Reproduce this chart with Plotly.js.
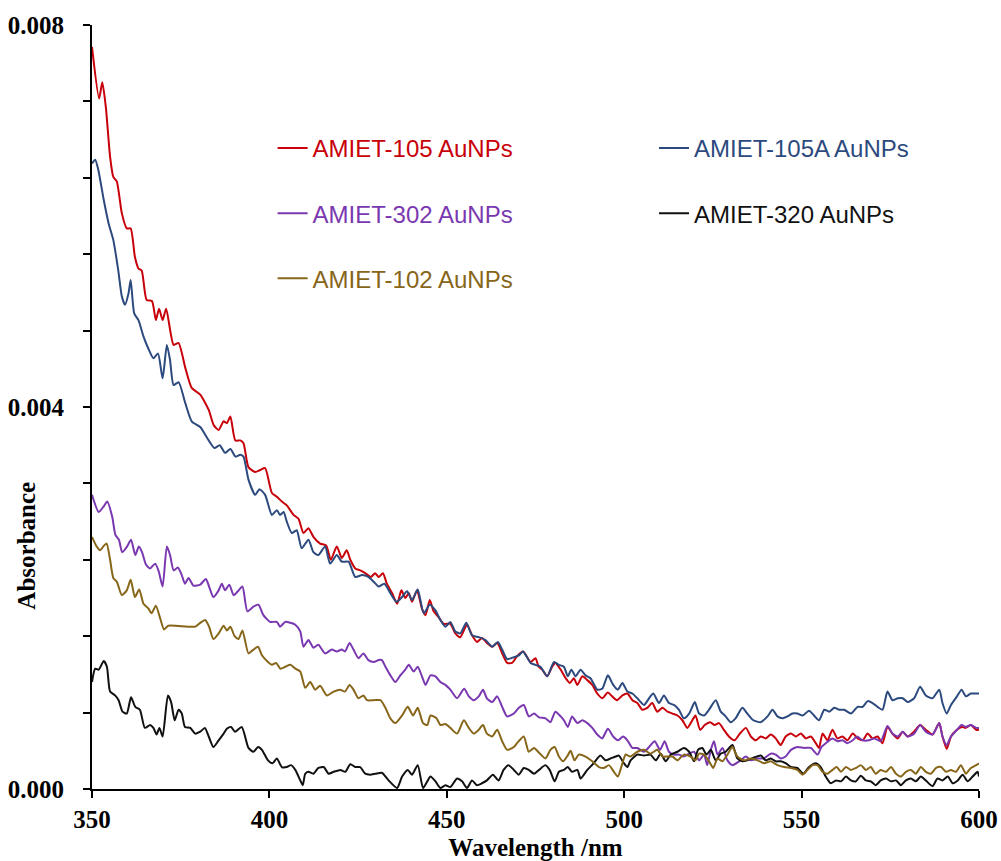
<!DOCTYPE html>
<html>
<head>
<meta charset="utf-8">
<script src="https://cdn.plot.ly/plotly-3.0.1.min.js"></script>
<style>
  html, body { margin: 0; padding: 0; background: #ffffff; }
  #chart { width: 1001px; height: 861px; }
</style>
</head>
<body>
<div id="chart"></div>
<script>
// ---------------- DATA ----------------
const seriesNames = ["AMIET-105 AuNPs", "AMIET-105A AuNPs", "AMIET-302 AuNPs", "AMIET-320 AuNPs", "AMIET-102 AuNPs"];
const xTickVals = [350, 400, 450, 500, 550, 600];
const yTickVals = [0, 0.004, 0.008];
const yTickText = ["0.000", "0.004", "0.008"];

const wl105 = [350.0,352.0,352.9,353.9,355.1,356.0,357.0,358.4,359.8,360.9,362.1,363.1,364.0,365.4,366.9,368.0,368.9,369.9,370.9,373.0,374.4,376.3,378.1,380.5,382.9,384.3,385.7,387.1,388.0,389.0,390.4,391.8,392.7,394.1,396.0,397.4,398.8,400.7,402.1,403.5,404.9,406.8,408.2,409.6,411.0,412.4,414.3,416.0,417.3,419.0,420.4,421.8,422.8,424.2,425.6,427.0,428.6,429.8,430.8,432.0,433.1,434.6,436.0,437.2,438.3,439.3,440.2,441.6,443.0,444.0,445.2,446.3,447.7,449.1,451.0,452.4,453.8,455.7,457.1,458.5,459.9,461.3,462.8,464.2,465.6,467.0,468.4,469.8,471.5,473.6,475.0,475.9,476.9,478.3,479.7,480.6,482.1,483.5,484.7,485.8,486.8,488.2,489.6,491.0,492.4,493.8,495.4,496.6,498.0,499.5,500.9,502.3,503.7,505.1,506.5,507.9,509.3,510.8,512.2,513.6,515.0,516.4,517.8,519.2,520.1,521.4,522.7,524.2,525.5,526.7,528.1,529.5,531.1,532.6,534.3,535.7,537.1,538.5,539.9,541.3,542.7,544.1,545.5,547.0,548.4,549.8,551.2,552.6,554.0,554.9,555.9,557.3,558.7,560.1,561.5,562.9,564.4,565.8,567.2,568.6,570.0,571.4,572.8,574.2,575.6,577.1,578.5,579.9,581.7,583.4,585.0,586.9,588.8,589.7,590.9,592.1,593.8,595.1,596.3,597.7,599.2,600.0];
const abs105 = [0.00777,0.00723,0.00740,0.00714,0.00662,0.00641,0.00636,0.00603,0.00587,0.00587,0.00557,0.00545,0.00543,0.00512,0.00511,0.00491,0.00503,0.00491,0.00503,0.00465,0.00467,0.00441,0.00420,0.00413,0.00397,0.00381,0.00376,0.00385,0.00383,0.00390,0.00365,0.00365,0.00362,0.00337,0.00332,0.00334,0.00336,0.00310,0.00306,0.00301,0.00297,0.00287,0.00283,0.00268,0.00273,0.00264,0.00257,0.00255,0.00240,0.00254,0.00242,0.00250,0.00240,0.00231,0.00229,0.00226,0.00222,0.00226,0.00222,0.00226,0.00215,0.00205,0.00194,0.00208,0.00200,0.00205,0.00196,0.00208,0.00189,0.00182,0.00198,0.00186,0.00180,0.00173,0.00173,0.00163,0.00159,0.00172,0.00161,0.00154,0.00158,0.00153,0.00149,0.00153,0.00142,0.00132,0.00132,0.00139,0.00144,0.00133,0.00137,0.00128,0.00125,0.00118,0.00128,0.00132,0.00125,0.00116,0.00111,0.00116,0.00109,0.00118,0.00114,0.00109,0.00100,0.00095,0.00101,0.00097,0.00093,0.00098,0.00100,0.00093,0.00090,0.00083,0.00085,0.00090,0.00081,0.00085,0.00081,0.00079,0.00077,0.00072,0.00064,0.00072,0.00077,0.00062,0.00067,0.00070,0.00067,0.00069,0.00062,0.00055,0.00051,0.00058,0.00064,0.00055,0.00051,0.00055,0.00053,0.00057,0.00053,0.00046,0.00055,0.00058,0.00055,0.00058,0.00053,0.00055,0.00048,0.00043,0.00058,0.00051,0.00062,0.00053,0.00055,0.00051,0.00058,0.00053,0.00051,0.00058,0.00053,0.00055,0.00048,0.00065,0.00058,0.00053,0.00060,0.00055,0.00060,0.00067,0.00062,0.00057,0.00069,0.00055,0.00042,0.00055,0.00062,0.00065,0.00064,0.00067,0.00062,0.00062];

const wl105A = [350.0,350.9,351.8,353.3,354.7,356.0,357.4,358.4,359.3,360.3,360.9,361.9,363.1,364.5,365.9,367.3,368.6,369.9,371.1,372.0,373.0,374.4,376.3,378.1,380.5,382.9,384.5,386.0,387.5,389.0,390.5,391.8,392.7,394.1,396.0,397.2,398.8,400.7,402.1,403.0,404.0,404.9,406.3,407.7,409.1,411.0,412.4,413.8,415.7,417.1,419.0,420.4,422.3,424.2,426.1,427.9,429.4,430.8,432.4,434.1,435.8,437.4,438.8,440.2,441.8,443.5,445.2,446.8,448.2,449.6,451.0,452.4,453.8,455.5,457.1,459.0,460.9,462.8,464.4,465.6,467.0,468.9,470.3,471.5,473.6,475.0,476.4,478.3,480.2,481.6,483.0,484.1,485.1,486.3,487.7,489.1,490.5,492.4,493.8,495.4,496.9,498.2,499.5,500.9,502.3,503.7,505.6,507.0,508.2,509.8,511.2,512.6,514.0,515.4,516.8,518.3,519.9,521.1,522.5,523.9,525.8,527.2,528.6,530.0,531.4,533.3,534.7,536.4,538.5,540.4,541.8,543.2,544.6,546.0,547.4,548.8,550.3,552.1,553.5,554.9,556.4,557.8,559.2,560.6,562.0,563.9,565.8,567.2,568.6,570.0,571.4,572.8,574.2,575.6,577.1,578.5,579.9,581.7,583.4,585.0,586.9,588.8,589.7,590.9,592.1,593.8,595.1,596.3,597.7,599.2,600.0];
const abs105A = [0.00655,0.00659,0.00648,0.00617,0.00592,0.00575,0.00543,0.00516,0.00507,0.00519,0.00533,0.00498,0.00491,0.00474,0.00461,0.00451,0.00456,0.00430,0.00465,0.00449,0.00423,0.00426,0.00404,0.00385,0.00379,0.00365,0.00357,0.00360,0.00352,0.00356,0.00348,0.00350,0.00348,0.00324,0.00308,0.00314,0.00308,0.00287,0.00292,0.00287,0.00290,0.00280,0.00268,0.00271,0.00252,0.00261,0.00248,0.00245,0.00254,0.00236,0.00245,0.00238,0.00238,0.00222,0.00224,0.00222,0.00217,0.00212,0.00215,0.00205,0.00196,0.00201,0.00207,0.00198,0.00209,0.00184,0.00193,0.00187,0.00177,0.00170,0.00175,0.00165,0.00163,0.00174,0.00161,0.00159,0.00156,0.00149,0.00154,0.00146,0.00136,0.00138,0.00140,0.00144,0.00132,0.00130,0.00128,0.00118,0.00133,0.00130,0.00128,0.00118,0.00125,0.00118,0.00125,0.00119,0.00116,0.00104,0.00105,0.00119,0.00109,0.00104,0.00111,0.00102,0.00100,0.00095,0.00088,0.00095,0.00100,0.00090,0.00098,0.00090,0.00088,0.00083,0.00074,0.00079,0.00091,0.00079,0.00077,0.00083,0.00093,0.00081,0.00076,0.00070,0.00074,0.00085,0.00079,0.00072,0.00070,0.00076,0.00083,0.00076,0.00074,0.00076,0.00079,0.00079,0.00077,0.00082,0.00077,0.00072,0.00083,0.00081,0.00085,0.00083,0.00083,0.00079,0.00086,0.00086,0.00092,0.00090,0.00086,0.00083,0.00102,0.00093,0.00095,0.00095,0.00091,0.00095,0.00107,0.00098,0.00095,0.00104,0.00090,0.00079,0.00088,0.00097,0.00104,0.00097,0.00100,0.00100,0.00100];

const wl302 = [350.0,351.9,353.3,354.3,355.7,356.6,357.6,358.5,359.9,361.0,362.2,363.2,364.1,365.2,366.4,367.8,368.8,369.9,371.1,372.0,373.0,374.2,375.3,376.2,377.2,378.6,380.5,382.1,383.0,384.2,385.7,386.6,387.5,388.7,389.9,391.1,392.4,393.8,395.5,396.9,398.3,400.2,402.1,403.0,404.5,405.9,407.3,408.7,409.6,411.0,412.4,413.8,415.7,417.6,419.0,420.4,421.3,422.6,423.7,425.1,426.5,427.9,429.4,430.8,431.7,432.7,434.1,435.5,436.9,438.3,439.3,440.7,441.8,443.0,444.0,445.4,446.8,448.2,449.6,451.0,452.9,454.9,456.2,457.6,459.0,460.2,461.3,462.8,464.2,465.6,467.0,468.9,470.3,471.7,473.1,474.6,476.0,477.8,479.2,480.6,482.1,483.0,484.1,485.3,486.8,488.2,489.6,491.0,492.4,493.8,495.4,496.9,498.2,499.7,500.9,502.3,503.7,505.6,507.0,508.6,510.1,511.4,512.6,514.0,515.4,516.8,518.3,519.7,521.1,522.5,523.4,524.4,525.3,526.3,527.7,529.1,530.5,532.4,534.3,535.7,537.6,539.4,541.3,542.7,544.1,545.5,547.0,548.8,550.7,552.6,554.5,555.6,556.8,558.7,560.1,561.5,562.9,564.4,565.6,567.2,569.0,570.5,572.3,574.2,575.6,577.1,578.5,579.9,581.7,583.4,585.0,586.9,588.8,589.7,590.9,592.1,593.8,595.1,596.3,597.7,599.2,600.0];
const abs302 = [0.00308,0.00290,0.00296,0.00301,0.00285,0.00266,0.00261,0.00248,0.00254,0.00261,0.00245,0.00254,0.00248,0.00235,0.00231,0.00236,0.00228,0.00212,0.00254,0.00245,0.00229,0.00232,0.00224,0.00215,0.00221,0.00213,0.00214,0.00220,0.00212,0.00201,0.00208,0.00215,0.00208,0.00214,0.00203,0.00207,0.00212,0.00186,0.00191,0.00193,0.00182,0.00175,0.00175,0.00170,0.00175,0.00174,0.00172,0.00165,0.00149,0.00156,0.00148,0.00151,0.00142,0.00146,0.00144,0.00146,0.00144,0.00153,0.00146,0.00137,0.00142,0.00135,0.00133,0.00135,0.00135,0.00128,0.00119,0.00112,0.00119,0.00125,0.00130,0.00123,0.00128,0.00118,0.00109,0.00119,0.00118,0.00112,0.00109,0.00104,0.00095,0.00105,0.00097,0.00093,0.00097,0.00104,0.00095,0.00091,0.00097,0.00086,0.00076,0.00079,0.00085,0.00088,0.00076,0.00079,0.00075,0.00074,0.00070,0.00081,0.00076,0.00072,0.00065,0.00076,0.00069,0.00072,0.00069,0.00064,0.00057,0.00053,0.00063,0.00055,0.00051,0.00055,0.00051,0.00043,0.00043,0.00039,0.00044,0.00050,0.00041,0.00050,0.00039,0.00036,0.00036,0.00034,0.00037,0.00039,0.00030,0.00036,0.00025,0.00041,0.00050,0.00036,0.00043,0.00030,0.00025,0.00029,0.00034,0.00030,0.00032,0.00032,0.00037,0.00036,0.00032,0.00034,0.00041,0.00044,0.00043,0.00043,0.00036,0.00044,0.00048,0.00053,0.00050,0.00051,0.00048,0.00051,0.00055,0.00051,0.00051,0.00053,0.00050,0.00066,0.00058,0.00055,0.00060,0.00055,0.00058,0.00067,0.00060,0.00057,0.00069,0.00055,0.00046,0.00055,0.00062,0.00067,0.00065,0.00067,0.00064,0.00064];

const wl320 = [350.0,350.9,351.9,353.3,354.2,355.1,356.5,357.5,358.6,359.8,361.0,362.2,363.5,364.9,366.4,367.3,368.2,369.0,369.9,371.4,372.3,373.3,374.4,375.3,376.2,377.7,379.1,380.5,381.8,382.9,384.2,385.7,387.1,388.0,389.2,390.3,392.2,394.1,395.5,396.8,397.9,399.6,400.9,402.1,403.5,404.9,406.1,407.3,408.7,409.4,410.1,411.0,412.4,413.8,415.3,416.7,418.1,420.0,421.4,422.8,424.2,425.6,427.0,428.4,429.9,431.7,433.6,436.0,437.4,439.0,440.2,441.8,443.3,444.5,445.4,446.8,448.2,449.6,451.0,452.9,454.3,455.7,457.1,458.5,459.9,461.3,463.0,464.6,466.0,467.4,468.9,470.3,471.7,473.1,474.6,476.0,477.8,479.0,480.4,481.6,483.0,484.1,485.3,486.8,487.7,489.6,491.4,493.3,494.8,496.2,497.6,498.5,499.9,500.9,501.8,503.7,505.6,507.4,508.9,510.3,511.7,513.1,515.0,516.8,518.3,519.7,520.8,522.0,523.2,524.4,525.8,527.2,528.6,530.5,531.9,533.3,534.7,536.6,538.5,539.9,541.3,542.7,544.1,545.5,547.0,548.8,550.5,552.1,554.0,555.4,556.8,558.2,559.7,561.1,562.5,563.9,565.3,566.7,568.1,569.5,570.9,572.3,573.8,575.2,576.6,578.0,579.4,580.8,582.2,583.6,585.0,586.9,588.3,589.7,591.2,592.6,594.0,595.4,596.8,598.2,599.6,600.0];
const abs320 = [0.00112,0.00126,0.00125,0.00134,0.00128,0.00102,0.00098,0.00093,0.00081,0.00079,0.00096,0.00086,0.00083,0.00064,0.00067,0.00064,0.00057,0.00064,0.00055,0.00098,0.00091,0.00072,0.00083,0.00079,0.00065,0.00064,0.00058,0.00060,0.00064,0.00055,0.00044,0.00051,0.00058,0.00063,0.00065,0.00060,0.00065,0.00043,0.00039,0.00044,0.00041,0.00030,0.00027,0.00032,0.00023,0.00023,0.00025,0.00020,0.00009,0.00004,0.00016,0.00018,0.00016,0.00022,0.00023,0.00016,0.00018,0.00020,0.00018,0.00026,0.00023,0.00023,0.00016,0.00015,0.00016,0.00017,0.00009,0.00001,0.00013,0.00020,0.00015,0.00025,0.00001,0.00008,0.00013,0.00008,0.00001,0.00004,0.00002,0.00011,0.00008,0.00001,0.00009,0.00004,0.00006,0.00009,0.00015,0.00009,0.00020,0.00025,0.00020,0.00015,0.00022,0.00020,0.00016,0.00020,0.00025,0.00020,0.00008,0.00018,0.00020,0.00023,0.00018,0.00020,0.00011,0.00020,0.00027,0.00035,0.00030,0.00032,0.00034,0.00035,0.00027,0.00023,0.00030,0.00036,0.00035,0.00036,0.00030,0.00037,0.00029,0.00036,0.00039,0.00043,0.00039,0.00029,0.00041,0.00043,0.00036,0.00041,0.00030,0.00037,0.00039,0.00046,0.00032,0.00029,0.00030,0.00033,0.00035,0.00030,0.00032,0.00029,0.00029,0.00027,0.00023,0.00022,0.00016,0.00023,0.00027,0.00023,0.00013,0.00006,0.00009,0.00008,0.00013,0.00009,0.00008,0.00014,0.00009,0.00008,0.00004,0.00009,0.00011,0.00008,0.00009,0.00004,0.00009,0.00011,0.00008,0.00013,0.00009,0.00003,0.00011,0.00009,0.00013,0.00006,0.00009,0.00015,0.00008,0.00013,0.00018,0.00013];

const wl102 = [350.0,351.3,352.3,353.2,354.1,355.1,356.0,357.0,358.4,359.8,360.9,362.1,363.3,364.5,365.9,366.8,368.0,369.2,370.3,371.5,379.1,380.5,381.9,383.0,384.2,385.7,387.1,388.0,389.0,390.2,391.3,392.4,394.1,395.5,396.8,397.9,399.6,400.7,401.9,403.1,404.5,405.9,407.3,408.7,410.1,411.5,412.9,414.3,416.2,418.1,419.9,421.3,422.6,423.7,425.1,426.5,427.5,429.4,431.3,432.7,434.1,435.5,437.4,439.0,440.5,441.8,443.3,444.5,445.4,447.1,448.2,449.6,451.0,452.9,454.8,456.2,457.6,459.0,460.2,461.3,462.8,464.2,465.6,467.0,468.9,469.8,471.7,473.1,474.6,476.0,477.8,479.2,480.4,481.6,482.8,483.9,484.9,486.0,487.2,489.1,491.0,492.9,494.3,495.7,497.1,498.2,499.5,500.4,501.8,503.7,505.6,507.4,509.3,510.8,512.2,513.6,515.0,516.8,518.7,520.1,521.1,522.5,523.9,525.1,526.3,527.7,529.1,530.5,531.9,533.8,535.7,537.6,539.4,541.3,543.2,545.1,547.0,548.8,550.3,551.7,553.1,554.5,555.9,557.3,558.7,559.9,561.1,562.5,563.9,565.3,566.7,568.1,569.5,570.9,572.3,573.8,575.2,576.6,578.0,579.4,580.8,582.2,583.6,585.0,586.4,587.9,589.3,590.7,592.1,593.5,594.9,596.3,597.7,599.2,600.0];
const abs102 = [0.00264,0.00254,0.00250,0.00254,0.00257,0.00240,0.00221,0.00217,0.00203,0.00208,0.00219,0.00201,0.00209,0.00194,0.00189,0.00184,0.00192,0.00179,0.00167,0.00171,0.00170,0.00174,0.00177,0.00170,0.00157,0.00163,0.00171,0.00166,0.00170,0.00160,0.00157,0.00166,0.00142,0.00146,0.00149,0.00140,0.00133,0.00130,0.00132,0.00126,0.00128,0.00130,0.00126,0.00123,0.00106,0.00112,0.00104,0.00108,0.00098,0.00102,0.00104,0.00102,0.00109,0.00104,0.00095,0.00098,0.00093,0.00093,0.00093,0.00085,0.00074,0.00069,0.00077,0.00086,0.00077,0.00085,0.00069,0.00067,0.00077,0.00074,0.00067,0.00068,0.00064,0.00058,0.00072,0.00064,0.00058,0.00062,0.00067,0.00058,0.00055,0.00062,0.00050,0.00041,0.00044,0.00048,0.00055,0.00039,0.00043,0.00038,0.00032,0.00041,0.00044,0.00034,0.00029,0.00034,0.00040,0.00030,0.00036,0.00034,0.00029,0.00023,0.00022,0.00025,0.00018,0.00013,0.00027,0.00036,0.00034,0.00039,0.00041,0.00037,0.00041,0.00034,0.00034,0.00034,0.00030,0.00036,0.00034,0.00030,0.00037,0.00036,0.00029,0.00022,0.00032,0.00029,0.00036,0.00044,0.00034,0.00030,0.00032,0.00030,0.00027,0.00029,0.00025,0.00023,0.00022,0.00020,0.00015,0.00020,0.00025,0.00025,0.00018,0.00016,0.00020,0.00023,0.00018,0.00023,0.00020,0.00022,0.00025,0.00020,0.00023,0.00016,0.00020,0.00018,0.00023,0.00016,0.00013,0.00018,0.00020,0.00016,0.00023,0.00018,0.00016,0.00022,0.00023,0.00018,0.00020,0.00018,0.00025,0.00016,0.00022,0.00025,0.00027];

// ---------------- STYLE ----------------
const colors = {
  r105: "#C8000A",
  b105A: "#2C4A7E",
  p302: "#7A38B0",
  k320: "#111111",
  o102: "#87661A"
};
const serif = "Liberation Serif, Times New Roman, serif";
const sans = "Liberation Sans, Arial, sans-serif";

function mk(x, y, name, color, legend, group) {
  return {
    type: "scatter", mode: "lines", x: x, y: y,
    name: '<span style="color:' + color + '">' + name + '</span>',
    legend: legend, legendgroup: group,
    line: { color: color, width: 2, shape: "spline", smoothing: 0.6 },
    hoverinfo: "skip"
  };
}

const traces = [
  mk(wl105, abs105, seriesNames[0], colors.r105, "legend", "g1"),
  mk(wl105A, abs105A, seriesNames[1], colors.b105A, "legend2", "g2"),
  mk(wl302, abs302, seriesNames[2], colors.p302, "legend", "g3"),
  mk(wl320, abs320, seriesNames[3], colors.k320, "legend2", "g4"),
  mk(wl102, abs102, seriesNames[4], colors.o102, "legend", "g5")
];

const tickFont = { family: serif, size: 25, color: "#000", weight: "bold" };

const layout = {
  width: 1001, height: 861,
  margin: { l: 92, r: 22, t: 25, b: 72 },
  paper_bgcolor: "#ffffff",
  plot_bgcolor: "#ffffff",
  showlegend: true,
  xaxis: {
    range: [350, 600], tickmode: "array", tickvals: xTickVals,
    ticks: "outside", ticklen: 7, tickwidth: 2, tickcolor: "#000",
    showline: true, linecolor: "#000", linewidth: 2,
    showgrid: false, zeroline: false,
    tickfont: tickFont, ticklabelstandoff: 0,
    title: { text: "Wavelength /nm", font: { family: serif, size: 25, color: "#000", weight: "bold" }, standoff: 8 }
  },
  xaxis2: {
    overlaying: "x", anchor: "y", side: "bottom", range: [350, 600],
    tickmode: "array", tickvals: xTickVals,
    ticks: "inside", ticklen: 7, tickwidth: 2, tickcolor: "#000",
    showticklabels: false, showline: false, showgrid: false, zeroline: false
  },
  yaxis: {
    range: [0, 0.008], tickmode: "array", tickvals: yTickVals, ticktext: yTickText,
    ticks: "outside", ticklen: 7, tickwidth: 2, tickcolor: "#000",
    minor: { dtick: 0.0008, tick0: 0, ticks: "outside", ticklen: 7, tickwidth: 2, tickcolor: "#000", showgrid: false },
    showline: true, linecolor: "#000", linewidth: 2,
    showgrid: false, zeroline: false,
    tickfont: tickFont, ticklabelstandoff: 14
  },
  yaxis2: {
    overlaying: "y", anchor: "x", side: "left", range: [0, 0.008],
    tickmode: "array", tickvals: yTickVals,
    ticks: "inside", ticklen: 7, tickwidth: 2, tickcolor: "#000",
    showticklabels: false, showline: false, showgrid: false, zeroline: false
  },
  legend: {
    x: 0.2036, xanchor: "left", y: 0.868, yanchor: "top",
    bgcolor: "rgba(0,0,0,0)", borderwidth: 0,
    font: { family: sans, size: 24, color: "#000" },
    traceorder: "grouped", tracegroupgap: 31
  },
  legend2: {
    x: 0.6336, xanchor: "left", y: 0.868, yanchor: "top",
    bgcolor: "rgba(0,0,0,0)", borderwidth: 0,
    font: { family: sans, size: 24, color: "#000" },
    traceorder: "grouped", tracegroupgap: 31
  },
  annotations: [{
    text: "Absorbance", xref: "paper", yref: "paper",
    x: -0.074, y: 0.319, xanchor: "center", yanchor: "middle",
    textangle: -90, showarrow: false,
    font: { family: serif, size: 25, color: "#000", weight: "bold" }
  }]
};

Plotly.newPlot("chart", traces, layout, { displayModeBar: false, staticPlot: true });
</script>
</body>
</html>
